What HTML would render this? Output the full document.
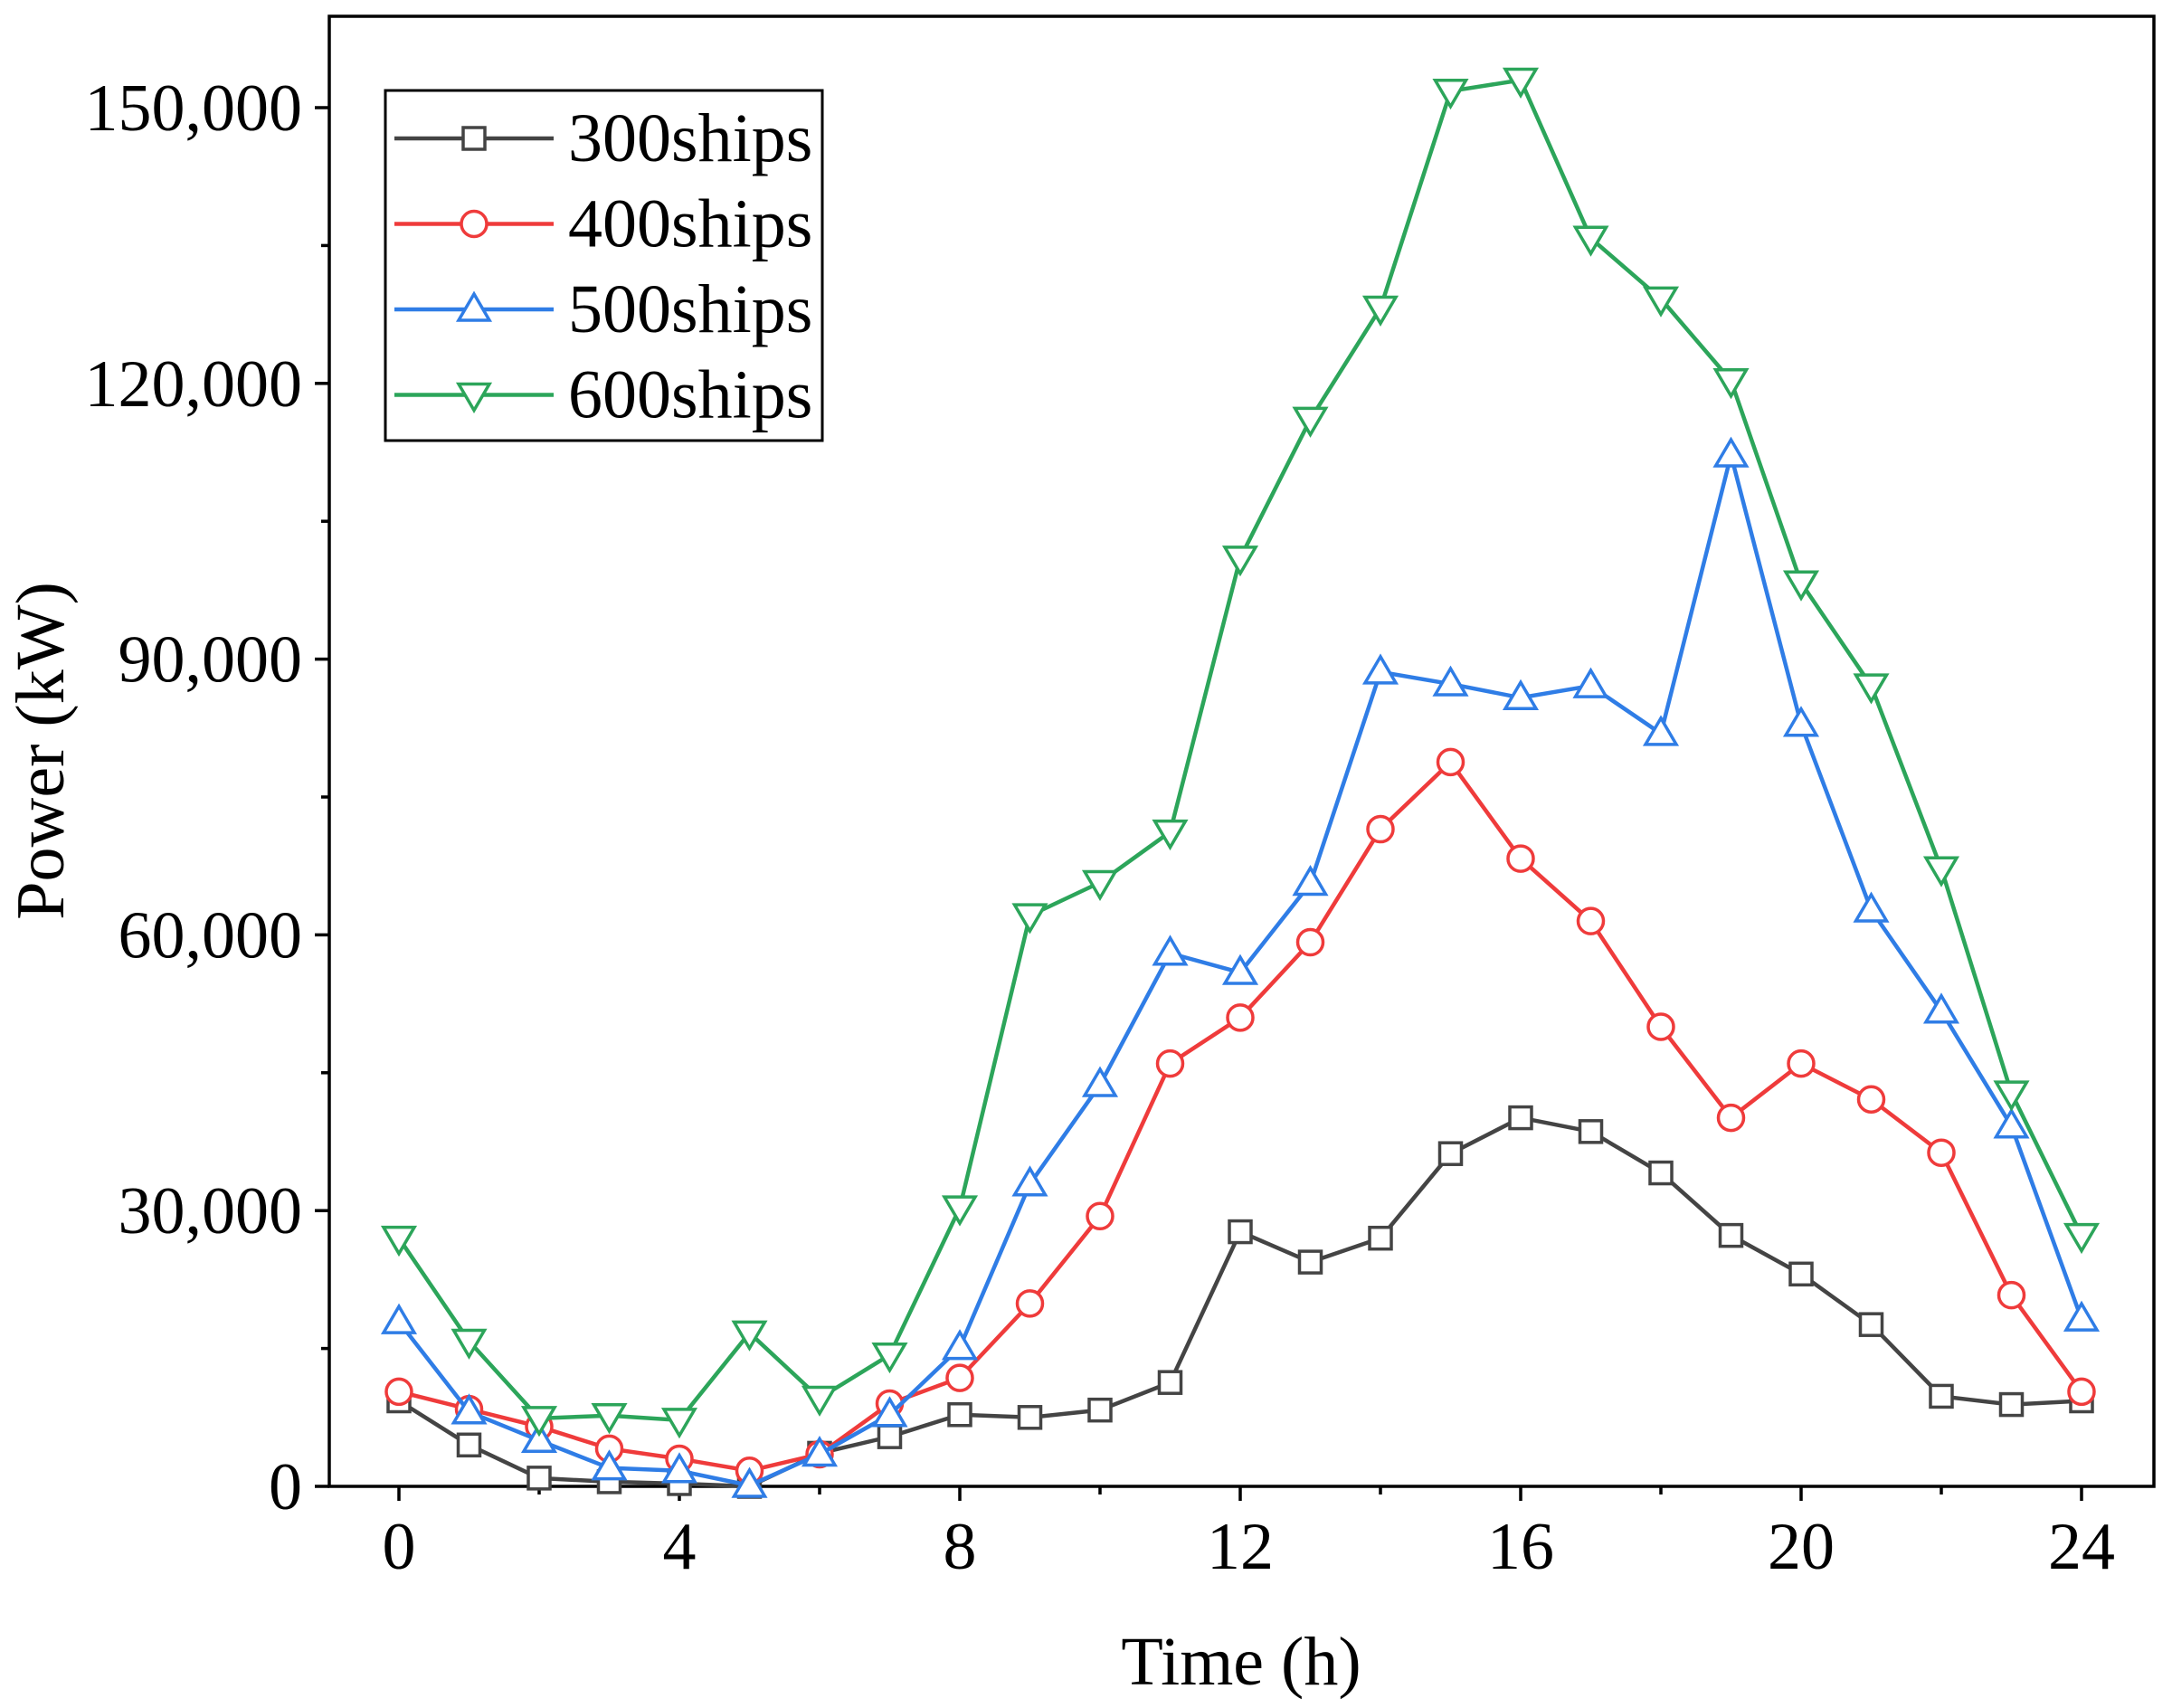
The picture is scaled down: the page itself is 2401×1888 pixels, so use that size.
<!DOCTYPE html>
<html><head><meta charset="utf-8"><style>
html,body{margin:0;padding:0;background:#fff;}
svg{display:block;font-family:"Liberation Serif",serif;}
</style></head><body>
<svg id="chart" width="2401" height="1888" viewBox="0 0 2401 1888"></svg>
<script>
const hours=[0,1,2,3,4,5,6,7,8,9,10,11,12,13,14,15,16,17,18,19,20,21,22,23,24];
const s300=[9300,4500,900,500,300,0,3600,5400,7800,7500,8300,11300,27700,24400,27000,36200,40100,38600,34100,27300,23100,17600,9800,8900,9300];
const s400=[10300,8400,6500,4100,3000,1700,3500,9000,11800,19900,29400,46000,51000,59200,71500,78800,68300,61500,50000,40100,46000,42100,36300,20800,10300];
const s500=[17900,8100,5000,2000,1700,100,3500,7800,15100,32900,43700,58000,55900,65600,88600,87300,85800,87100,81900,112200,82900,62700,51700,39200,18200];
const s600=[27000,15800,7400,7700,7200,16700,9600,14300,30300,62100,65700,71200,101000,116100,128200,151800,153000,135800,129200,120300,98300,87100,67200,42800,27300];
const xTicks=[0,4,8,12,16,20,24];
const yTicks=[0,30000,60000,90000,120000,150000];
const yTickLabels=["0","30,000","60,000","90,000","120,000","150,000"];
const seriesNames=["300ships","400ships","500ships","600ships"];

const NS="http://www.w3.org/2000/svg";
const svg=document.getElementById('chart');
const L=364,R=2381,T=18,B=1643;
const X=h=>441+(h/24)*(2301-441);
const Y=v=>1643-(v/150000)*(1643-119);
function mk(tag,attrs,parent){const e=document.createElementNS(NS,tag);for(const k in attrs)e.setAttribute(k,attrs[k]);(parent||svg).appendChild(e);return e;}

const frame=mk('rect',{x:L,y:T,width:R-L,height:B-T,fill:'none',stroke:'#000','stroke-width':3.5});



for(let h=0;h<=24;h+=2){
  const major=h%4===0;
  const t=mk('line',{x1:X(h),x2:X(h),y1:B,y2:B+(major?16:9),stroke:'#000','stroke-width':3.5});
  
  
}
xTicks.forEach(h=>{
  const t=mk('text',{x:X(h),y:1734,'text-anchor':'middle','font-size':74,fill:'#000'});
  t.textContent=h;
  
  
});
for(let v=0;v<=150000;v+=15000){
  const major=v%30000===0;
  const t=mk('line',{x1:L,x2:L-(major?16:9),y1:Y(v),y2:Y(v),stroke:'#000','stroke-width':3.5});
  
  
}
yTicks.forEach((v,i)=>{
  const t=mk('text',{x:334,y:Y(v)+25,'text-anchor':'end','font-size':74,fill:'#000'});
  t.textContent=yTickLabels[i];
  
  
});
const xt=mk('text',{x:1372,y:1862,'text-anchor':'middle','font-size':76,fill:'#000'});
xt.textContent='Time (h)';


const yt=mk('text',{x:0,y:0,'text-anchor':'middle','font-size':76,fill:'#000',transform:'translate(70,830) rotate(-90)'});
yt.textContent='Power (kW)';



const colors=['#444444','#ef3b3b','#2f7de6','#2ca55a'];
const markers=['square','circle','up','down'];
function marker(type,x,y,c,g){
  const r=14;const a={fill:'#fff',stroke:c,'stroke-width':3.5};
  let m;
  if(type==='square')m=mk('rect',Object.assign({x:x-12,y:y-12,width:24,height:24},a),g);
  else if(type==='circle')m=mk('circle',Object.assign({cx:x,cy:y,r:r},a),g);
  else if(type==='up')m=mk('polygon',Object.assign({points:`${x},${y-17} ${x-17},${y+12} ${x+17},${y+12}`},a),g);
  else m=mk('polygon',Object.assign({points:`${x},${y+17} ${x-17},${y-12} ${x+17},${y-12}`},a),g);
  return m;
}
[s300,s400,s500,s600].forEach((s,i)=>{
  const g=mk('g',{});
  
  
  const p=mk('polyline',{points:s.map((v,j)=>X(hours[j])+','+Y(v)).join(' '),fill:'none',stroke:colors[i],'stroke-width':4.5},g);
  
  
  s.forEach((v,j)=>{
    const m=marker(markers[i],X(hours[j]),Y(v),colors[i],g);
    
    
  });
});

const lg=mk('g',{});


mk('rect',{x:426,y:100,width:483,height:387,fill:'#fff',stroke:'#000','stroke-width':3},lg);
seriesNames.forEach((n,i)=>{
  const y=153+i*94.5;
  const e=mk('g',{},lg);
  
  
  mk('line',{x1:436,x2:612,y1:y,y2:y,stroke:colors[i],'stroke-width':4.5},e);
  marker(markers[i],524,y,colors[i],e);
  const t=mk('text',{x:628,y:y+25,'font-size':76,fill:'#000'},e);
  t.textContent=n;
});
</script>
</body></html>
